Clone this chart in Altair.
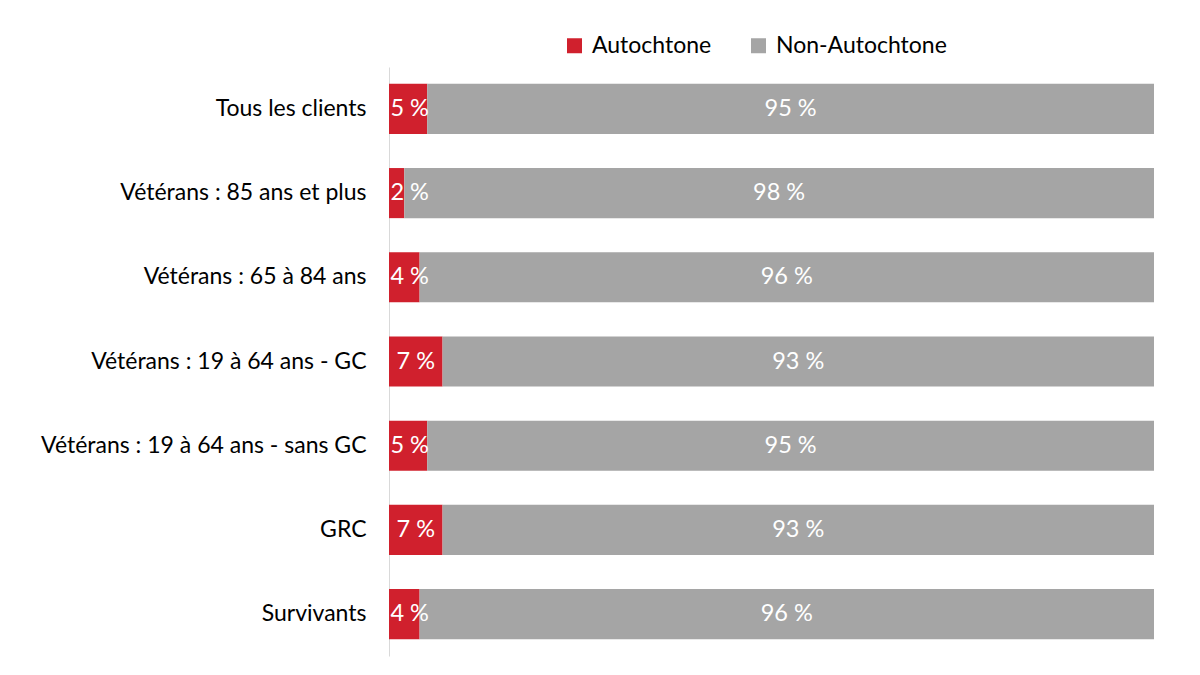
import altair as alt
import pandas as pd

categories = [
    "Tous les clients",
    "Vétérans : 85 ans et plus",
    "Vétérans : 65 à 84 ans",
    "Vétérans : 19 à 64 ans - GC",
    "Vétérans : 19 à 64 ans - sans GC",
    "GRC",
    "Survivants",
]
autochtone = [5, 2, 4, 7, 5, 7, 4]
non_autochtone = [95, 98, 96, 93, 95, 93, 96]
series = ["Autochtone", "Non-Autochtone"]
colors = ["#D0202D", "#A5A5A5"]

FONT = "Lato"

rows = []
for c, a, n in zip(categories, autochtone, non_autochtone):
    rows.append({"cat": c, "serie": series[0], "val": a, "ord": 0})
    rows.append({"cat": c, "serie": series[1], "val": n, "ord": 1})
long_df = pd.DataFrame(rows)
wide_df = pd.DataFrame({"cat": categories, "a": autochtone, "n": non_autochtone})

y_enc = alt.Y(
    "cat:N",
    sort=categories,
    scale=alt.Scale(paddingInner=0.405, paddingOuter=0.2),
    axis=alt.Axis(
        title=None,
        ticks=False,
        labelFontSize=23,
        labelFont=FONT,
        labelColor="#000000",
        labelPadding=23,
        domainColor="#D9D9D9",
        domainWidth=1,
        labelLimit=400,
    ),
)
x_scale = alt.Scale(domain=[0, 100], nice=False, zero=True)

bars = alt.Chart(long_df).mark_bar().encode(
    x=alt.X("val:Q", stack="zero", scale=x_scale, axis=None),
    y=y_enc,
    color=alt.Color(
        "serie:N",
        scale=alt.Scale(domain=series, range=colors),
        legend=alt.Legend(
            title=None,
            orient="none",
            legendX=174,
            legendY=-33,
            direction="horizontal",
            symbolType="square",
            symbolSize=225,
            symbolStrokeWidth=0,
            labelFontSize=23,
            labelFont=FONT,
            labelColor="#000000",
            labelOffset=6,
            labelLimit=400,
            columnPadding=35,
        ),
    ),
    order=alt.Order("ord:Q"),
)

txt_a = alt.Chart(wide_df).transform_calculate(
    pos="max(datum.a / 2, 2.7)",
    lbl="datum.a + ' %'",
).mark_text(color="white", fontSize=23.5, font=FONT, align="center", baseline="middle").encode(
    x=alt.X("pos:Q", scale=x_scale),
    y=alt.Y("cat:N", sort=categories),
    text="lbl:N",
)

txt_n = alt.Chart(wide_df).transform_calculate(
    pos="datum.a + datum.n / 2",
    lbl="datum.n + ' %'",
).mark_text(color="white", fontSize=23.5, font=FONT, align="center", baseline="middle").encode(
    x=alt.X("pos:Q", scale=x_scale),
    y=alt.Y("cat:N", sort=categories),
    text="lbl:N",
)

chart = alt.layer(bars, txt_a, txt_n).properties(
    width=765,
    height=589,
    autosize=alt.AutoSizeParams(type="none"),
    padding={"left": 381, "top": 59, "right": 38, "bottom": 12},
).configure(
    background="white",
    view=alt.ViewConfig(strokeWidth=0, stroke="transparent"),
)

chart.save("out.html", embed_options={"renderer": "svg", "actions": False})
